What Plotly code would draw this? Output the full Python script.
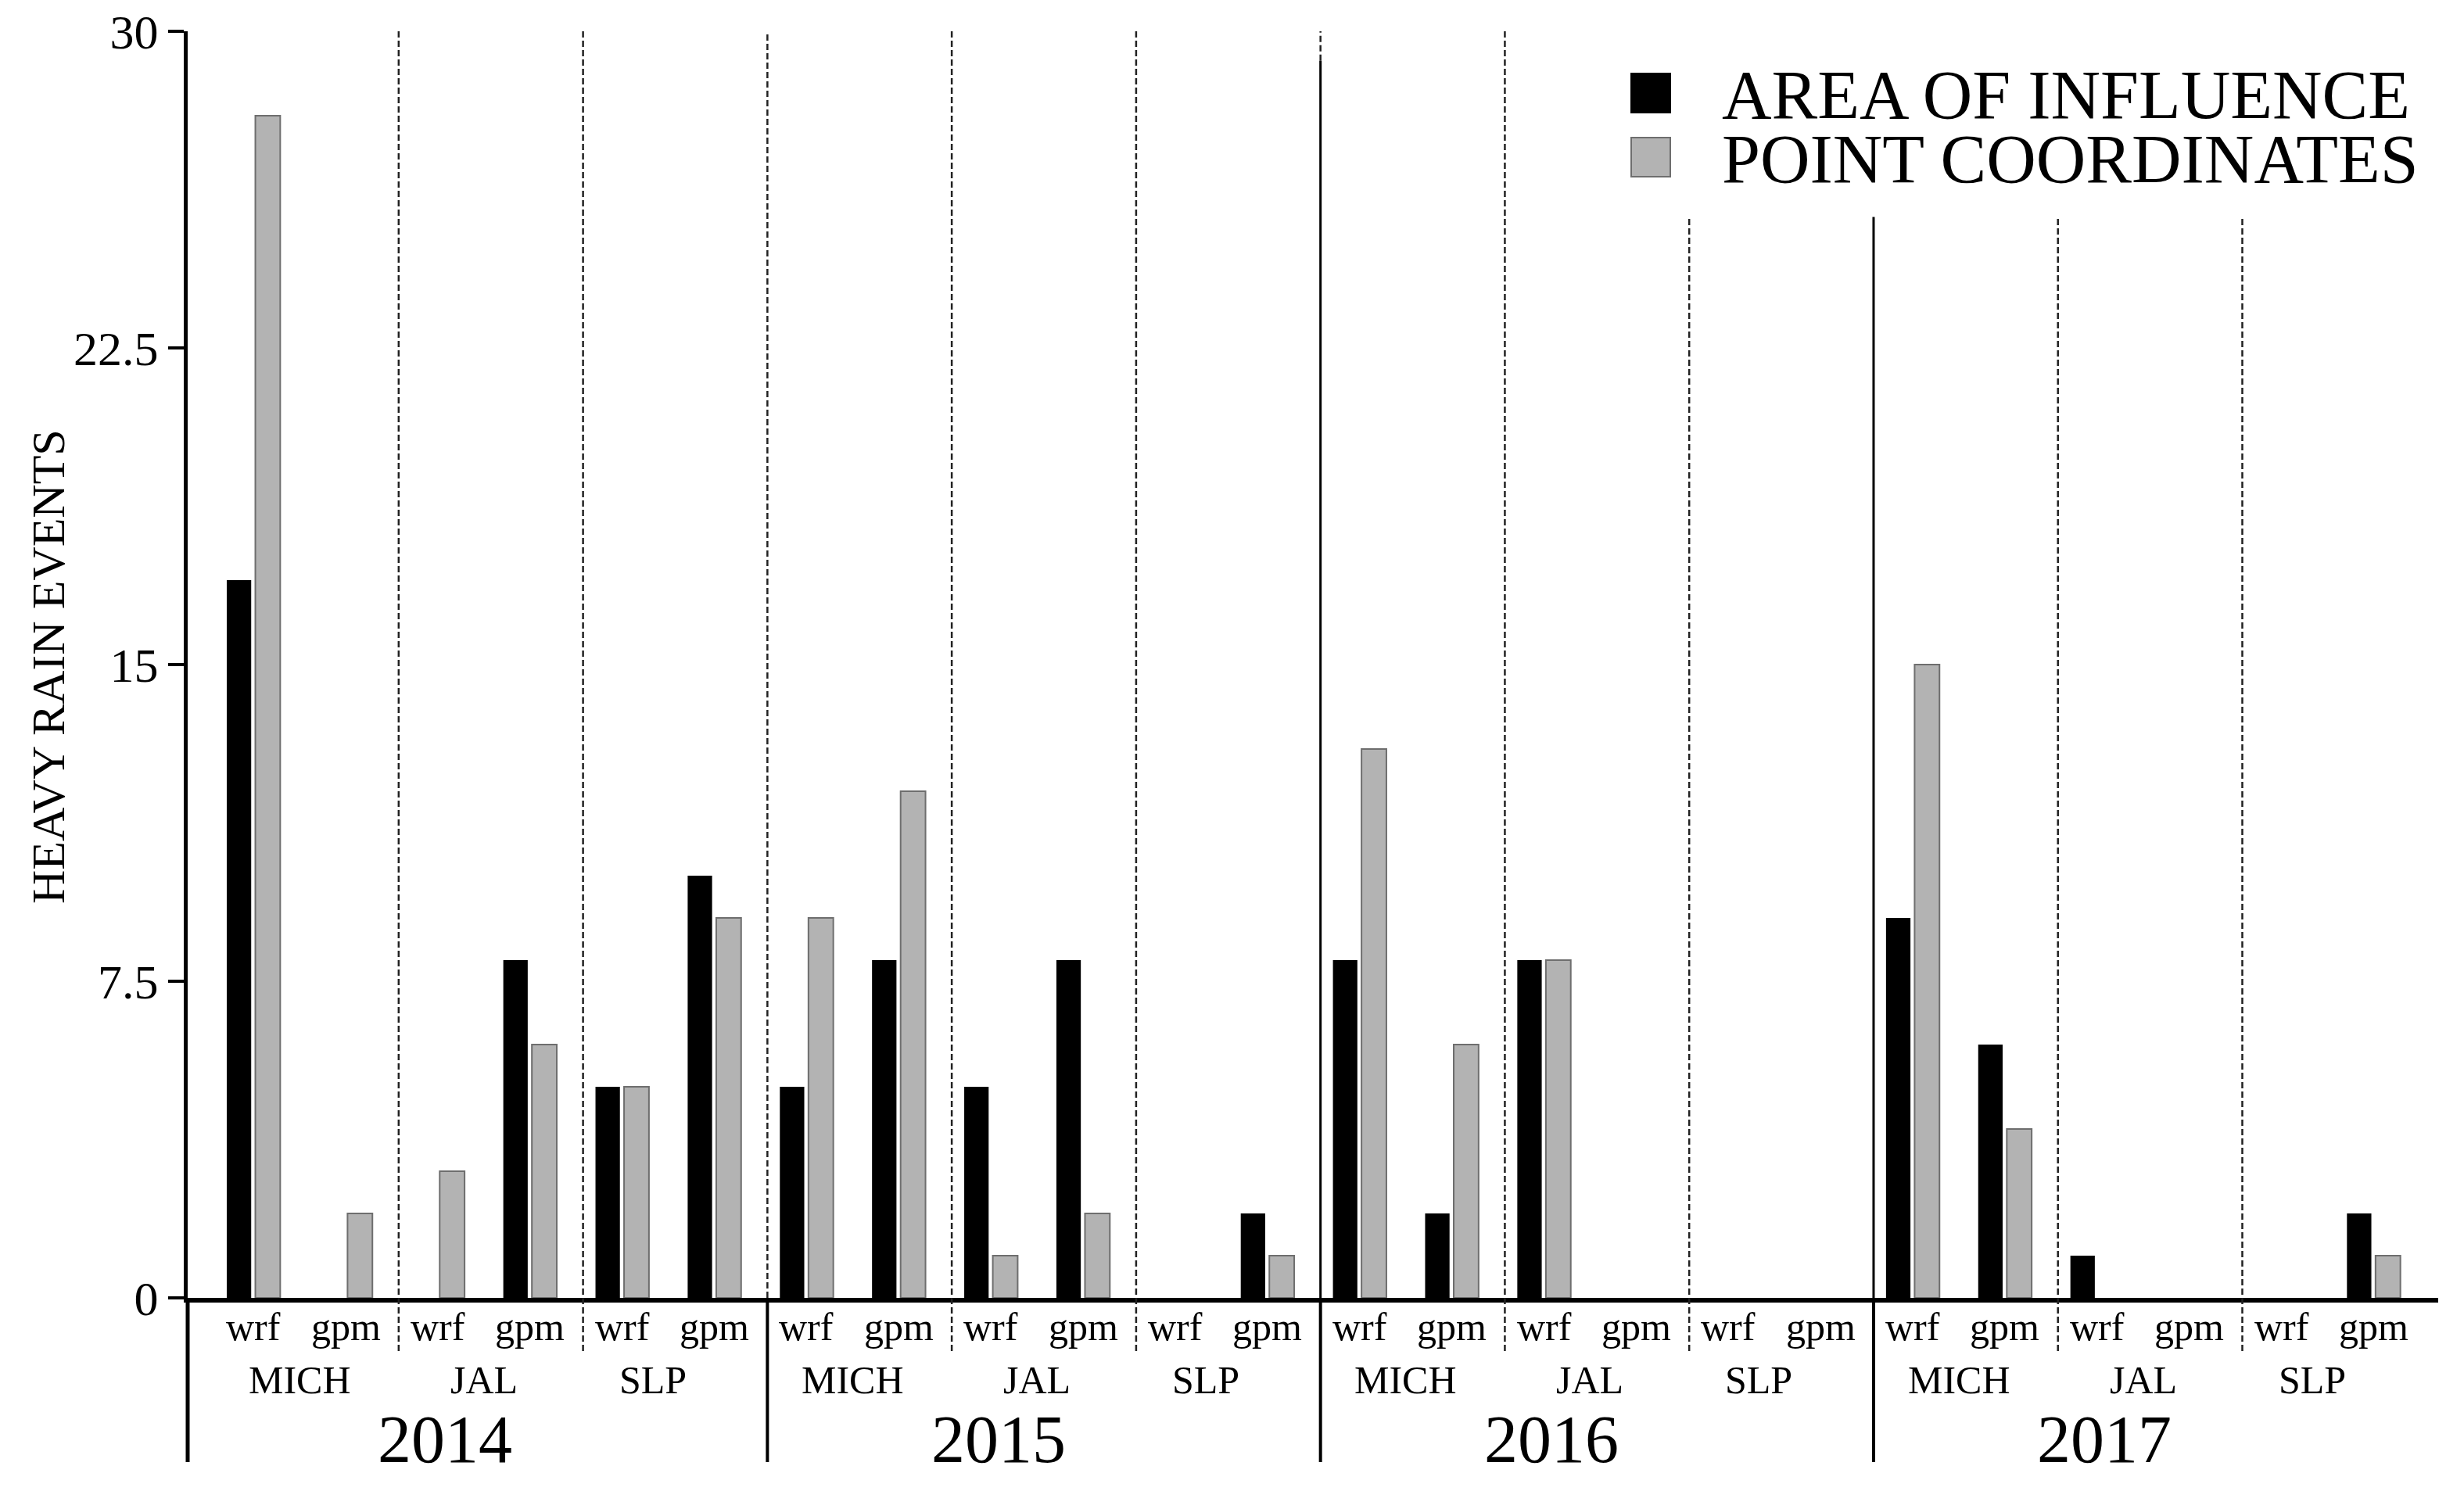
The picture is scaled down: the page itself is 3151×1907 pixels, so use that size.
import plotly.graph_objects as go

# ---------------- data ----------------
years = ["2014", "2015", "2016", "2017"]
states = ["MICH", "JAL", "SLP"]
models = ["wrf", "gpm"]

# values in order: year -> state -> model
area_of_influence = [17, 0, 0, 8, 5, 10,
                     5, 8, 5, 8, 0, 2,
                     8, 2, 8, 0, 0, 0,
                     9, 6, 1, 0, 0, 2]
point_coordinates = [28, 2, 3, 6, 5, 9,
                     9, 12, 1, 2, 0, 1,
                     13, 6, 8, 0, 0, 0,
                     15, 4, 0, 0, 0, 1]

y_ticks = [0, 7.5, 15, 22.5, 30]
y_tick_labels = ["0", "7.5", "15", "22.5", "30"]
series_names = ["AREA OF INFLUENCE", "POINT COORDINATES"]

# ---------------- layout constants ----------------
W, H = 3151, 1907
ML, MR, MT, MB = 232, 41, 32, 255
FONT = "Liberation Serif"
X_MIN, X_MAX = -0.714, 23.70
Y_MAX = 30
plot_h = H - MT - MB
plot_w = W - ML - MR
OFF = 8  # page offset of the plot div


def px(v):
    return (v - X_MIN) / (X_MAX - X_MIN)


def py_pixel(p):
    # screen pixel row (from top) -> paper y
    return (H - MB + OFF - p) / plot_h


def pxx_pixel(p):
    return (p - OFF - ML) / plot_w


n_cat = len(years) * len(states) * len(models)
xs = list(range(n_cat))

fig = go.Figure()
fig.add_trace(go.Bar(
    x=xs, y=area_of_influence, name=series_names[0],
    width=0.265, offset=-0.29,
    marker=dict(color="#000000", line=dict(width=0)),
    showlegend=False))
fig.add_trace(go.Bar(
    x=xs, y=point_coordinates, name=series_names[1],
    width=0.27, offset=0.02,
    marker=dict(color="#b3b3b3",
                line=dict(color="#6e6e6e",
                          width=[2 if v > 0 else 0 for v in point_coordinates])),
    showlegend=False))

shapes = []
ann = []

bottom_year = py_pixel(1870)
bottom_state = py_pixel(1728)
shapes.append(dict(type="line", xref="paper", yref="paper", x0=0, x1=0,
                   y0=0, y1=bottom_year, line=dict(color="black", width=5)))

per_year = len(states) * len(models)
per_state = len(models)
legend_top = 25.6  # dividers under the legend start lower
DASH = dict(color="#222", width=2.5, dash="8px,4px")

for b in range(1, n_cat):
    xb = px(b - 0.5 + 0.075)
    if b % per_year == 0:
        yi = b // per_year
        shapes.append(dict(type="line", xref="paper", yref="paper", x0=xb, x1=xb,
                           y0=0, y1=bottom_year, line=dict(color="black", width=4)))
        if yi == 1:
            shapes.append(dict(type="line", xref="paper", yref="paper", x0=xb, x1=xb,
                               y0=0, y1=1, line=DASH))
        elif yi == 2:
            shapes.append(dict(type="line", xref="paper", yref="paper", x0=xb, x1=xb,
                               y0=29.3 / Y_MAX, y1=1, line=DASH))
            shapes.append(dict(type="line", xref="paper", yref="paper", x0=xb, x1=xb,
                               y0=0, y1=29.3 / Y_MAX, line=dict(color="black", width=3)))
        else:
            shapes.append(dict(type="line", xref="paper", yref="paper", x0=xb, x1=xb,
                               y0=0, y1=legend_top / Y_MAX, line=dict(color="black", width=3)))
    elif b % per_state == 0:
        top = 1 if b <= 14 else legend_top / Y_MAX
        shapes.append(dict(type="line", xref="paper", yref="paper", x0=xb, x1=xb,
                           y0=bottom_state, y1=top, line=DASH))

# category labels
for i in xs:
    ann.append(dict(x=i, y=py_pixel(1697), xref="x", yref="paper", text=models[i % 2],
                    showarrow=False, xanchor="center", yanchor="middle",
                    font=dict(family=FONT, size=50, color="black")))
state_shift = [0.0, 0.0, -0.17]
for s in range(len(years) * len(states)):
    ann.append(dict(x=s * 2 + 0.5 + state_shift[s % 3], y=py_pixel(1765), xref="x", yref="paper",
                    text=states[s % 3], showarrow=False, xanchor="center", yanchor="middle",
                    font=dict(family=FONT, size=50, color="black")))
for yi, yr in enumerate(years):
    ann.append(dict(x=yi * per_year + 2.5 - 0.42, y=py_pixel(1841), xref="x", yref="paper",
                    text=yr, showarrow=False, xanchor="center", yanchor="middle",
                    font=dict(family=FONT, size=86, color="black")))

# y-axis title
ann.append(dict(x=pxx_pixel(62), y=py_pixel(853), xref="paper", yref="paper",
                text="HEAVY RAIN EVENTS", textangle=-90, showarrow=False,
                xanchor="center", yanchor="middle",
                font=dict(family=FONT, size=60, color="black")))

# manual legend
leg_x0 = pxx_pixel(2086)
leg_x1 = pxx_pixel(2136)
leg_tx = pxx_pixel(2200)
leg_rows = [(94, 144, "#000000", "#000000"), (176, 226, "#b3b3b3", "#6e6e6e")]
for (t, b_, fill, edge), name in zip(leg_rows, series_names):
    shapes.append(dict(type="rect", xref="paper", yref="paper", x0=leg_x0, x1=leg_x1,
                       y0=py_pixel(b_), y1=py_pixel(t), fillcolor=fill,
                       line=dict(color=edge, width=2)))
    ann.append(dict(x=leg_tx, y=py_pixel((t + b_) / 2 + 2), xref="paper", yref="paper",
                    text=name, showarrow=False, xanchor="left", yanchor="middle",
                    font=dict(family=FONT, size=88, color="black")))

fig.update_layout(
    width=W, height=H,
    margin=dict(l=ML, r=MR, t=MT, b=MB, autoexpand=False),
    paper_bgcolor="white", plot_bgcolor="white",
    barmode="overlay",
    shapes=shapes, annotations=ann,
    font=dict(family=FONT, color="black"),
)
fig.update_xaxes(range=[X_MIN, X_MAX], showticklabels=False, ticks="",
                 showgrid=False, zeroline=False, showline=True, automargin=False,
                 linecolor="black", linewidth=6)
fig.update_yaxes(range=[0, Y_MAX], tickvals=y_ticks, ticktext=y_tick_labels,
                 ticks="outside", ticklen=20, tickwidth=4, tickcolor="black",
                 showgrid=False, zeroline=False, showline=True, automargin=False,
                 linecolor="black", linewidth=5, ticklabeloverflow="allow",
                 tickfont=dict(family=FONT, size=62, color="black"))

fig.write_html("out.html")
